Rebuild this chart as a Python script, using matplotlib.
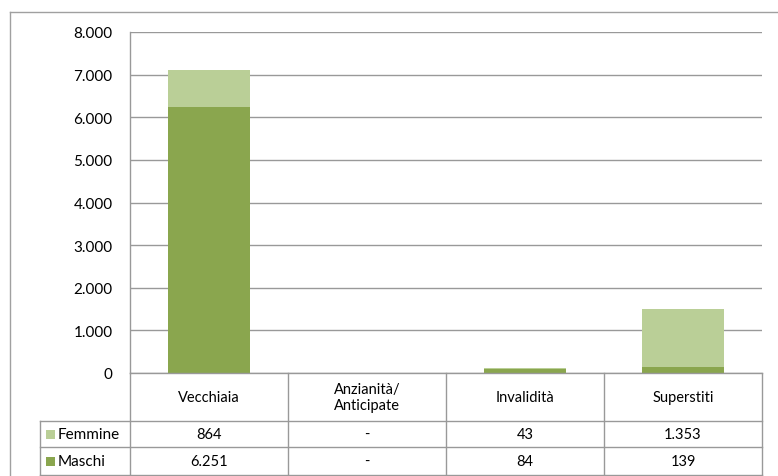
import matplotlib
matplotlib.use("Agg")
import matplotlib.pyplot as plt
from matplotlib.lines import Line2D
from matplotlib.patches import Rectangle

categories = ["Vecchiaia", "Anzianità/\nAnticipate", "Invalidità", "Superstiti"]
maschi = [6251, 0, 84, 139]
femmine = [864, 0, 43, 1353]
maschi_labels = ["6.251", "-", "84", "139"]
femmine_labels = ["864", "-", "43", "1.353"]
yticks = [0, 1000, 2000, 3000, 4000, 5000, 6000, 7000, 8000]
ytick_labels = ["0", "1.000", "2.000", "3.000", "4.000", "5.000", "6.000", "7.000", "8.000"]

col_m = "#8AA64E"
col_f = "#BACF97"
grid_c = "#999999"
border_c = "#A0A0A0"

plt.rcParams['font.family'] = ['Lato', 'DejaVu Sans']

W, H = 778, 477
fig = plt.figure(figsize=(W / 100, H / 100), dpi=100)

def fx(px):
    return px / W

def fy(py):
    return 1 - py / H

# plot area
L, R, T, B = 130, 762, 33, 374
ax = fig.add_axes([fx(L), fy(B), fx(R - L), (B - T) / H])
x = list(range(len(categories)))
ax.bar(x, maschi, width=0.52, color=col_m, zorder=3)
ax.bar(x, femmine, width=0.52, bottom=maschi, color=col_f, zorder=3)
ax.set_xlim(-0.5, len(categories) - 0.5)
ax.set_ylim(0, 8000)
ax.set_yticks(yticks)
ax.set_yticklabels(ytick_labels, fontsize=11)
ax.set_xticks([])
ax.tick_params(axis='y', length=0, pad=12.5)
ax.grid(axis='y', color=grid_c, linewidth=1.0, zorder=0)
for s in ['top', 'right', 'bottom']:
    ax.spines[s].set_visible(False)
ax.spines['left'].set_color(grid_c)
ax.spines['left'].set_linewidth(1.0)

# table
def hline(y, x0, x1):
    fig.add_artist(Line2D([fx(x0), fx(x1)], [fy(y), fy(y)], color=grid_c, lw=1.0))

def vline(xp, y0, y1):
    fig.add_artist(Line2D([fx(xp), fx(xp)], [fy(y0), fy(y1)], color=grid_c, lw=1.0))

row_cat_bot = 422
row_f_bot = 448
row_m_bot = 476
tbl_left = 40

hline(B, L, R)
hline(row_cat_bot, tbl_left, R)
hline(row_f_bot, tbl_left, R)
hline(row_m_bot, tbl_left, R)
vline(tbl_left, row_cat_bot, row_m_bot)
ncat = len(categories)
cw = (R - L) / ncat
for i in range(ncat + 1):
    vline(L + i * cw, B, row_m_bot)

for i, c in enumerate(categories):
    cx = L + (i + 0.5) * cw
    fig.text(fx(cx), fy((B + row_cat_bot) / 2), c, ha='center', va='center',
             fontsize=10.5, linespacing=1.1)
    fig.text(fx(cx), fy((row_cat_bot + row_f_bot) / 2), femmine_labels[i],
             ha='center', va='center', fontsize=10.5)
    fig.text(fx(cx), fy((row_f_bot + row_m_bot) / 2), maschi_labels[i],
             ha='center', va='center', fontsize=10.5)

for (y0, y1, name, col) in [(row_cat_bot, row_f_bot, "Femmine", col_f),
                            (row_f_bot, row_m_bot, "Maschi", col_m)]:
    cy = (y0 + y1) / 2
    fig.add_artist(Rectangle((fx(46), fy(cy + 4.5)), fx(9), 9 / H,
                             facecolor=col, edgecolor='none'))
    fig.text(fx(58), fy(cy), name, ha='left', va='center', fontsize=11)

# outer chart border
fig.add_artist(Line2D([fx(10), fx(W)], [fy(13), fy(13)], color=border_c, lw=1.0))
fig.add_artist(Line2D([fx(10), fx(10)], [fy(13), 0], color=border_c, lw=1.0))

fig.savefig("out.png", dpi=100)
